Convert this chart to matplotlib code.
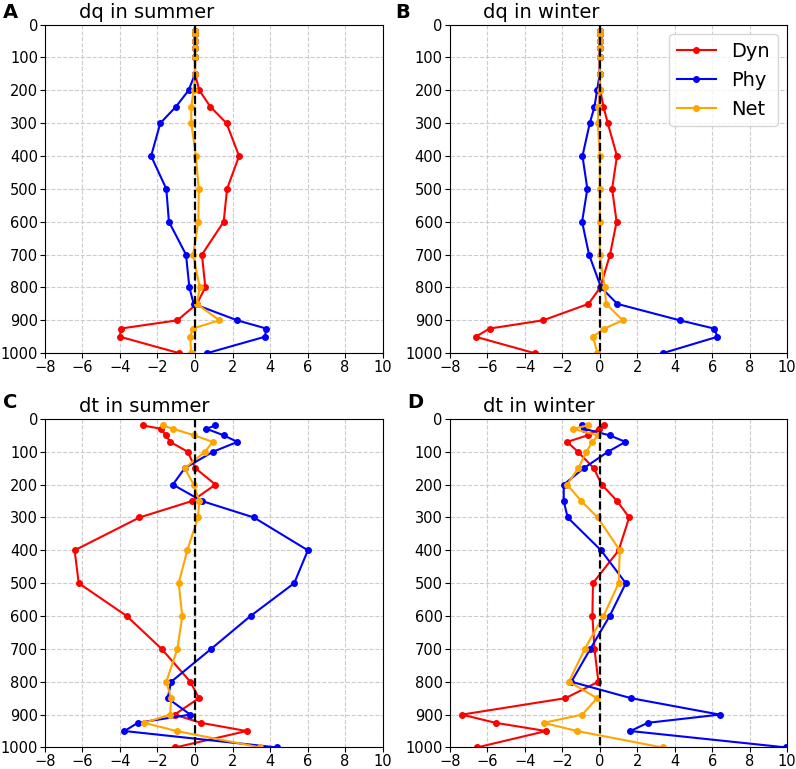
import matplotlib
matplotlib.use("Agg")
import matplotlib.pyplot as plt
import numpy as np

# pressure levels (hPa)
levels = [20, 30, 50, 70, 100, 150, 200, 250, 300, 400, 500, 600,
          700, 800, 850, 900, 925, 950, 1000]

# A: dq in summer
dq_sum_dyn = [0, 0, 0, 0, 0, 0, 0.23, 0.82, 1.68, 2.35, 1.71, 1.53,
              0.37, 0.55, 0.10, -0.94, -3.96, -4.00, -0.84]
dq_sum_phy = [0, 0, 0, 0, 0, 0, -0.34, -1.02, -1.85, -2.34, -1.53, -1.39,
              -0.48, -0.30, -0.07, 2.25, 3.80, 3.73, 0.64]
dq_sum_net = [0.02, 0.02, 0.02, 0.02, 0.02, 0, -0.07, -0.20, -0.20, 0.05, 0.20, 0.18,
              -0.10, 0.25, 0.10, 1.30, -0.12, -0.25, -0.21]

# B: dq in winter
dq_win_dyn = [0, 0, 0, 0, 0, 0, 0.03, 0.20, 0.43, 0.92, 0.66, 0.90,
              0.55, 0.03, -0.60, -3.02, -5.87, -6.62, -3.47]
dq_win_phy = [0, 0, 0, 0, 0, 0, -0.14, -0.28, -0.53, -0.92, -0.66, -0.94,
              -0.57, 0.07, 0.94, 4.27, 6.10, 6.28, 3.36]
dq_win_net = [0, 0, 0, 0, 0, 0, 0, -0.07, -0.10, 0, 0, 0,
              0, 0.27, 0.34, 1.23, 0.25, -0.36, -0.12]

# C: dt in summer
dt_sum_dyn = [-2.78, -1.82, -1.55, -1.32, -0.39, 0.02, 1.09, -0.16, -2.96, -6.42, -6.20, -3.64,
              -1.78, -0.25, 0.21, -1.09, 0.32, 2.75, -1.05]
dt_sum_phy = [1.09, 0.61, 1.53, 2.26, 0.96, -0.55, -1.18, 0.37, 3.14, 6.02, 5.29, 2.96,
              0.86, -1.27, -1.46, -0.25, -3.05, -3.76, 4.39]
dt_sum_net = [-1.71, -1.18, -0.04, 0.94, 0.53, -0.55, -0.07, 0.23, 0.16, -0.41, -0.87, -0.68,
              -0.94, -1.53, -1.27, -1.32, -2.71, -0.98, 3.49]

# D: dt in winter
dt_win_dyn = [0.25, -0.05, -0.64, -1.74, -1.16, -0.32, 0.11, 0.93, 1.57, 1.01, -0.36, -0.39,
              -0.28, -0.07, -1.83, -7.35, -5.55, -2.86, -6.55]
dt_win_phy = [-0.94, -0.85, 0.53, 1.37, 0.44, -0.85, -1.92, -1.92, -1.71, 0.07, 1.39, 0.53,
              -0.50, -1.51, 1.67, 6.40, 2.56, 1.64, 9.96]
dt_win_net = [-0.64, -1.42, -0.09, -0.39, -0.71, -1.14, -1.74, -0.98, -0.11, 1.07, 1.01, 0.20,
              -0.80, -1.64, -0.14, -0.93, -2.99, -1.21, 3.35]

panel_letters = ["A", "B", "C", "D"]
panel_titles = ["dq in summer", "dq in winter", "dt in summer", "dt in winter"]
panel_data = [
    (dq_sum_dyn, dq_sum_phy, dq_sum_net),
    (dq_win_dyn, dq_win_phy, dq_win_net),
    (dt_sum_dyn, dt_sum_phy, dt_sum_net),
    (dt_win_dyn, dt_win_phy, dt_win_net),
]
series_names = ["Dyn", "Phy", "Net"]
series_colors = ["red", "blue", "orange"]

fig, axes = plt.subplots(2, 2, figsize=(7.96, 7.69), dpi=100)
fig.subplots_adjust(left=0.0565, right=0.989, top=0.968, bottom=0.028,
                    wspace=0.199, hspace=0.2)

# letter positions in figure coords (left edge, baseline)
letter_pos = [(0.004, 0.977), (0.496, 0.977), (0.004, 0.469), (0.512, 0.469)]

for i, ax in enumerate(axes.flat):
    for vals, name, col in zip(panel_data[i], series_names, series_colors):
        ax.plot(vals, levels, color=col, lw=1.5, marker="o", ms=4, label=name)
    ax.plot([0, 0], [0, 1000], color="k", lw=1.6, ls="--", zorder=5)
    ax.set_xlim(-8, 10)
    ax.set_ylim(1000, 0)
    ax.set_xticks(np.arange(-8, 11, 2))
    ax.set_yticks(np.arange(0, 1001, 100))
    ax.tick_params(labelsize=10.5, length=3.5, pad=1.5)
    ax.grid(True, ls="--", color="#cccccc", lw=0.8)
    ax.set_axisbelow(True)
    ax.text(0.1, 1.02, panel_titles[i], transform=ax.transAxes,
            ha="left", va="baseline", fontsize=14)
    fig.text(letter_pos[i][0], letter_pos[i][1], panel_letters[i],
             fontsize=14, fontweight="bold", va="baseline", ha="left")

axes[0, 1].legend(loc="upper right", fontsize=14)

fig.savefig("out.png", dpi=100)
